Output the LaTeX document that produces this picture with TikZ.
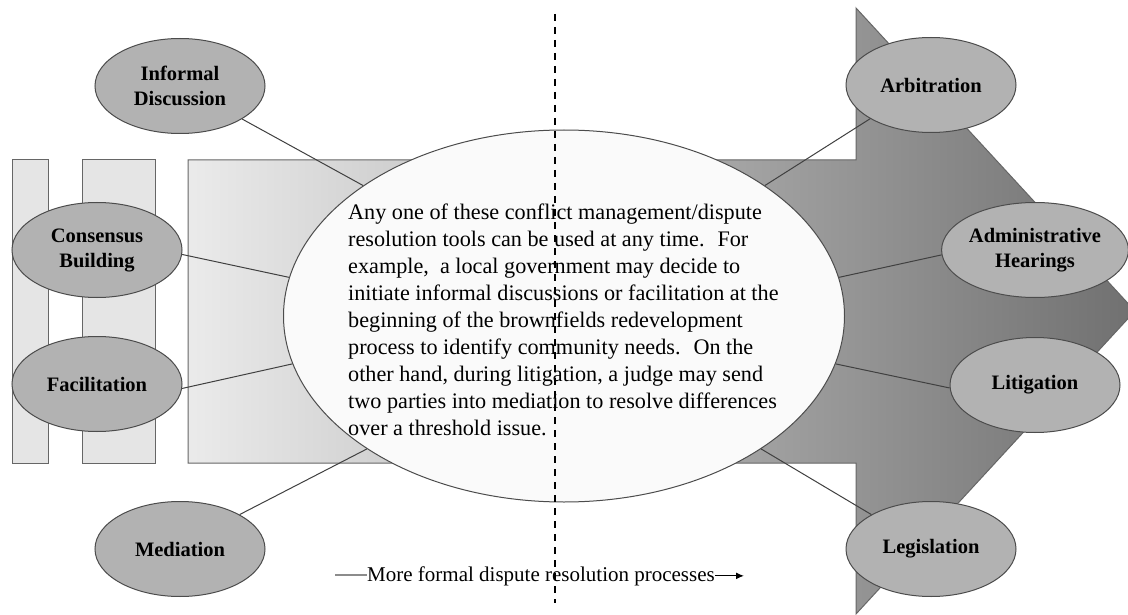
\documentclass[tikz,border=0pt]{standalone}
\usepackage{fontspec}
\setmainfont{Liberation Serif}
\usetikzlibrary{shapes.geometric,arrows.meta}
\begin{document}
\begin{tikzpicture}[x=1pt,y=-1pt,
  bar/.style={draw=black!60, fill=black!10, line width=1pt},
  tool/.style={ellipse, draw=black!70, fill=black!30, line width=1pt, minimum width=170pt, minimum height=95pt, inner sep=0pt, align=center, font=\fontsize{20.5}{25}\selectfont\bfseries},
  link/.style={draw=black!75, line width=1pt},
]
\useasboundingbox (0,0) rectangle (1128,615);
\fill[white] (0,0) rectangle (1128,615);
% side bars
\draw[bar] (12,160) rectangle (48,463);
\draw[bar] (82,160) rectangle (155,463);
% big arrow
\shadedraw[draw=black!60, line width=1pt, left color=black!8, middle color=black!50, right color=black!56]
  (188,160) -- (856,160) -- (856,8) -- (1135,311) -- (856,614) -- (856,463) -- (188,463) -- cycle;
% central ellipse
\node[ellipse, draw=black!70, fill=black!2, line width=1pt, minimum width=561pt, minimum height=372pt, inner sep=0pt] (hub) at (564,316) {};
% tools
\node[tool] (info) at (180,86) {Informal\\Discussion};
\node[tool] (cons) at (97,250) {Consensus\\Building};
\node[tool] (faci) at (97,384) {Facilitation};
\node[tool] (medi) at (180,549) {Mediation};
\node[tool] (arbi) at (931,85) {Arbitration};
\node[tool] (admi) at (1035,250) {Administrative\\Hearings};
\node[tool] (liti) at (1035,385) {Litigation};
\node[tool] (legi) at (931,549) {Legislation};
% connectors
\draw[link] (info.-28) -- (hub.147);
\draw[link] (cons.-3) -- (hub.172);
\draw[link] (faci.-3) -- (hub.190);
\draw[link] (medi.30) -- (hub.214);
\draw[link] (arbi.209) -- (hub.33);
\draw[link] (admi.183) -- (hub.8);
\draw[link] (liti.182) -- (hub.-10);
\draw[link] (legi.150) -- (hub.-34);
% central text
\node[anchor=north west, inner sep=0pt, align=left, font=\fontsize{22.2}{27}\selectfont] (note) at (348,204)
{Any one of these conflict management/dispute\\
resolution tools can be used at any time.~ For\\
example,~ a local government may decide to\\
initiate informal discussions or facilitation at the\\
beginning of the brownfields redevelopment\\
process to identify community needs.~ On the\\
other hand, during litigation, a judge may send\\
two parties into mediation to resolve differences\\
over a threshold issue.};
% dashed divider
\coordinate (dtop) at (555,14);
\coordinate (dbot) at (555,603);
\draw[line width=1.1pt, dash pattern=on 7pt off 6pt] (dtop) -- (dbot);
% bottom axis label
\node[anchor=base, inner sep=0pt, font=\fontsize{21}{24}\selectfont] (axis) at (541,581) {More formal dispute resolution processes};
\coordinate (astart) at (335,575);
\coordinate (aend) at (744,575);
\draw[black!45, line width=1.2pt] (astart) -- (astart -| axis.west);
\draw[line width=1.2pt, -{Latex[length=8pt,width=7pt]}] (axis.east) -- (aend |- axis.east);
\end{tikzpicture}
\end{document}
